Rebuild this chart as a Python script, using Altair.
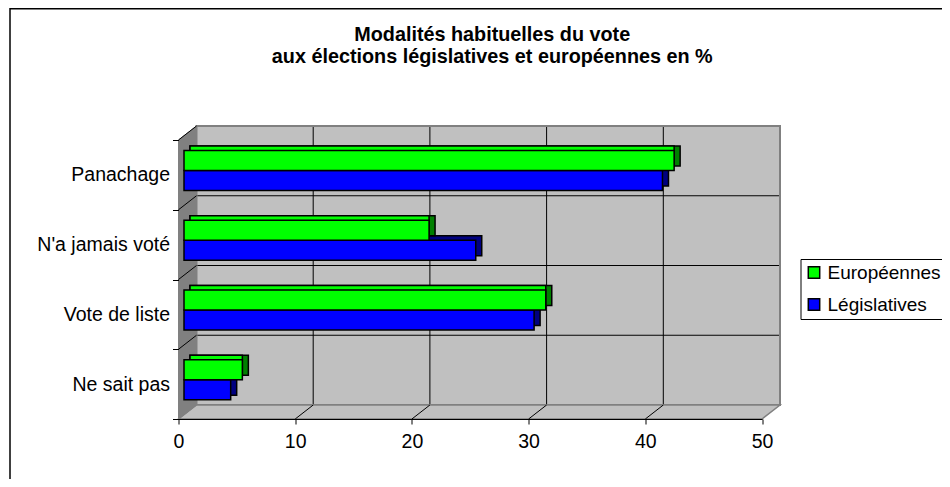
import altair as alt
import pandas as pd

# ---------------- data ----------------
categories = ["Panachage", "N'a jamais voté", "Vote de liste", "Ne sait pas"]
series = ["Européennes", "Législatives"]
europeennes = [42, 21, 31, 5]
legislatives = [41, 25, 30, 4]
x_ticks = [0, 10, 20, 30, 40, 50]
grid_ticks = [10, 20, 30, 40]
title_lines = ["Modalités habituelles du vote",
               "aux élections législatives et européennes en %"]

# ---------------- layout / style ----------------
W, H = 583.5, 279          # front plane of the 3D box
DX, DY = 18, 14            # depth of the box (pixels)
BAR_H = 20
FDX = 5.5                  # bar front face depth shift (x)
BDX, BDY = 11.5, 4.7       # bar back face: x shift, extra y shift
Y_GREEN, Y_BLUE = -14.3, 5.7
FONT = "Liberation Sans"
GREEN, BLUE = "#00ff00", "#0000ff"
DGREEN, DBLUE = "#008000", "#000080"
WALL, WALL_DARK = "#c0c0c0", "#808080"
PAD = {"left": 170.5, "top": 132, "right": 180, "bottom": 60}

vals = {"Européennes": europeennes, "Législatives": legislatives}
bars = pd.DataFrame([{"cat": c, "series": s, "value": vals[s][i]}
                     for s in series for i, c in enumerate(categories)])
cats = pd.DataFrame({"cat": categories})
grid = pd.DataFrame({"tick": grid_ticks})
one = pd.DataFrame({"k": [0]})

XMIN, XMAX = x_ticks[0], x_ticks[-1]
xscale = alt.Scale(domain=[XMIN, XMAX], nice=False, zero=True)
yscale = alt.Scale(type="band", domain=categories, paddingInner=0, paddingOuter=0)

AX = alt.Axis(values=x_ticks, title=None, grid=False, domainColor="black",
              domainWidth=1, tickColor="black", tickSize=5, labelFont=FONT,
              labelFontSize=19.5, labelColor="black", labelPadding=8,
              format="d", labelFlush=False, zindex=1)
AY = alt.Axis(title=None, grid=False, domain=False, tickColor="black",
              tickSize=6, tickBand="extent", labelFont=FONT, labelFontSize=19.5,
              labelColor="black", labelPadding=3, labelLimit=400, zindex=1)


def X(field=None, datum=None, **kw):
    if datum is not None:
        return alt.X(datum=datum, type="quantitative", scale=xscale, axis=AX)
    return alt.X(field, type="quantitative", scale=xscale, axis=AX, **kw)


def Y(**kw):
    return alt.Y("cat:N", scale=yscale, sort=categories, axis=AY, **kw)


def poly_path(pts, cx, cy, half):
    p = ["%s%.4f,%.4f" % ("M" if i == 0 else "L", (x - cx) / half, (y - cy) / half)
         for i, (x, y) in enumerate(pts)]
    return "".join(p) + "Z"


# back wall
back_wall = alt.Chart(cats).mark_rect(
    fill=WALL, xOffset=DX, x2Offset=DX, yOffset=-DY, y2Offset=-DY
).encode(x=X(datum=XMIN), x2=alt.X2(datum=XMAX), y=Y())

back_hgrid = alt.Chart(cats).mark_rule(
    color="black", strokeWidth=1, xOffset=DX, x2Offset=DX, yOffset=-DY
).encode(x=X(datum=XMIN), x2=alt.X2(datum=XMAX), y=Y(bandPosition=0))

back_vgrid = alt.Chart(grid).mark_rule(
    color="black", strokeWidth=1, xOffset=DX
).encode(x=X("tick"), y=alt.value(-DY), y2=alt.value(H - DY))

back_outline = alt.Chart(one).mark_rect(
    filled=False, stroke=WALL_DARK, strokeWidth=2, xOffset=DX, x2Offset=DX
).encode(x=X(datum=XMIN), x2=alt.X2(datum=XMAX), y=alt.value(-DY), y2=alt.value(H - DY))

# floor (parallelogram)
f_half = (W + DX) / 2
floor_path = poly_path([(0, H), (W, H), (W + DX, H - DY), (DX, H - DY)],
                       f_half, H - DY / 2, f_half)
floor = alt.Chart(one).mark_point(
    shape=floor_path, size=(2 * f_half) ** 2, filled=True, fill=WALL,
    stroke=WALL_DARK, strokeWidth=1.5, opacity=1, xOffset=f_half - W / 2
).encode(x=X(datum=XMAX / 2), y=alt.value(H - DY / 2))

# left wall (parallelogram)
l_half = (H + DY) / 2
lw_path = poly_path([(0, 0), (0, H), (DX, H - DY), (DX, -DY)],
                    DX / 2, (H - DY) / 2, l_half)
left_wall = alt.Chart(one).mark_point(
    shape=lw_path, size=(2 * l_half) ** 2, filled=True, fill=WALL_DARK,
    stroke=WALL_DARK, strokeWidth=1, opacity=1, xOffset=DX / 2
).encode(x=X(datum=XMIN), y=alt.value((H - DY) / 2))

diag = "M-1,%.4fL1,%.4f" % (DY / DX, -DY / DX)
left_diag = alt.Chart(cats).mark_point(
    shape=diag, size=DX ** 2, filled=False, stroke="black", strokeWidth=1,
    opacity=1, xOffset=DX / 2, yOffset=-DY / 2
).encode(x=X(datum=XMIN), y=Y(bandPosition=0))

floor_diag = alt.Chart(grid).mark_point(
    shape=diag, size=DX ** 2, filled=False, stroke="black", strokeWidth=1,
    opacity=1, xOffset=DX / 2
).encode(x=X("tick"), y=alt.value(H - DY / 2))

color = alt.Color("series:N", scale=alt.Scale(domain=series, range=[GREEN, BLUE]),
                  legend=alt.Legend(orient="none", legendX=622, legendY=119,
                                    title=None, symbolType="square", symbolSize=130,
                                    symbolStrokeColor="black", symbolStrokeWidth=1.5,
                                    labelFont=FONT, labelFontSize=19,
                                    labelColor="black", strokeColor="black",
                                    fillColor="white", padding=4, rowPadding=12,
                                    labelOffset=4, symbolOpacity=1, labelLimit=300))


def bar_layers(s, yo, dark, top_bright):
    base = alt.Chart(bars).transform_filter(alt.datum.series == s)
    enc = dict(x=X("value", stack=None), x2=alt.X2(datum=XMIN), y=Y())
    out = [base.mark_bar(height=BAR_H, fill=dark, stroke="black", strokeWidth=1.5,
                         xOffset=BDX, x2Offset=BDX, yOffset=yo - BDY).encode(**enc)]
    if top_bright:
        out.append(base.mark_bar(height=BAR_H, stroke="black", strokeWidth=1.5,
                                 xOffset=FDX, x2Offset=BDX, yOffset=yo - BDY, opacity=1
                                 ).encode(color=color, **enc))
    out.append(base.mark_bar(height=BAR_H, stroke="black", strokeWidth=1.5,
                             xOffset=FDX, x2Offset=FDX, yOffset=yo, opacity=1
                             ).encode(color=color, **enc))
    return out


frame_top = alt.Chart(one).mark_rule(color="black", strokeWidth=1.5).encode(
    x=alt.value(-168.5), x2=alt.value(W + PAD["right"]), y=alt.value(-PAD["top"] + 0.75))
frame_left = alt.Chart(one).mark_rule(color="black", strokeWidth=1.5).encode(
    x=alt.value(-168.5), y=alt.value(-PAD["top"]), y2=alt.value(H + PAD["bottom"]))

layers = [back_wall, back_hgrid, back_vgrid, back_outline, floor, left_wall,
          left_diag, floor_diag]
layers += bar_layers("Législatives", Y_BLUE, DBLUE, False)
layers += bar_layers("Européennes", Y_GREEN, DGREEN, True)
layers += [frame_top, frame_left]

chart = alt.layer(*layers).properties(
    width=W, height=H, padding=PAD, autosize="none",
    title=alt.TitleParams(title_lines, font=FONT, fontSize=19.8, fontWeight="bold",
                          color="black", anchor="middle", dx=22, offset=-59.3,
                          lineHeight=21.5),
).configure_view(stroke=None).configure(background="white")

chart.save("out.html", embed_options={"renderer": "svg", "actions": False})
